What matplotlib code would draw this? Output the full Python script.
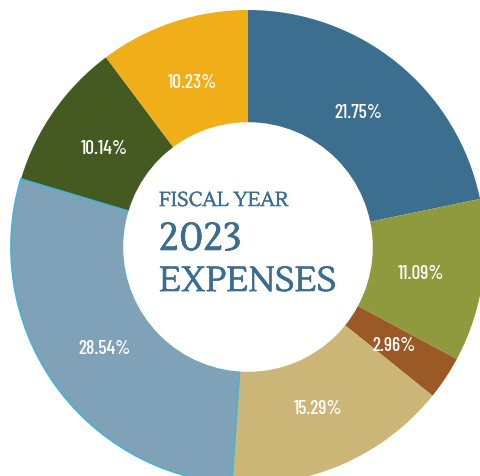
import matplotlib
matplotlib.use("Agg")
import matplotlib.pyplot as plt
from matplotlib.patches import Circle
import matplotlib.patheffects as pe
import numpy as np

values = [21.75, 11.09, 2.96, 15.29, 28.54, 10.14, 10.23]
labels = ["21.75%", "11.09%", "2.96%", "15.29%", "28.54%", "10.14%", "10.23%"]
colors = ["#3c6e8f", "#8f9a3f", "#9b5a25", "#cbb677", "#80a2b8", "#455a20", "#f0ae19"]
title_lines = ["FISCAL YEAR", "2023", "EXPENSES"]

W, H = 480, 477
fig = plt.figure(figsize=(W / 100, H / 100), dpi=100)
ax = fig.add_axes([0, 0, 1, 1])

cx, cy = 248, H - 248
R = 237
ring = 113

wedges, _ = ax.pie(values, colors=colors, startangle=90, counterclock=False,
                   radius=R, center=(cx, cy),
                   wedgeprops=dict(width=ring, linewidth=0, antialiased=True))
wedges[4].set_edgecolor("#4ab3cf")
wedges[4].set_linewidth(1.3)
wedges[4].set_zorder(3)
ax.add_patch(Circle((cx, cy), R - ring + 0.8, facecolor="white", edgecolor="none", zorder=4))

ax.set_xlim(0, W)
ax.set_ylim(0, H)
ax.set_aspect("equal")
ax.axis("off")

rl = 175
lab_font = ["Barlow Condensed", "DejaVu Sans"]
for w, lab in zip(wedges, labels):
    t = np.deg2rad((w.theta1 + w.theta2) / 2)
    ax.text(cx + rl * np.cos(t), cy + rl * np.sin(t) - 1, lab, color="white",
            ha="center", va="center", fontsize=14, fontweight="medium",
            family=lab_font, zorder=5)

tc = "#3b6d8e"
tf = ["Lustria", "DejaVu Serif"]
fx = [pe.withStroke(linewidth=0.45, foreground=tc)]
ax.text(159, H - 207, title_lines[0], color=tc, fontsize=14.5, ha="left", va="baseline",
        family=tf, zorder=5, path_effects=[pe.withStroke(linewidth=0.3, foreground=tc)])
ax.text(159, H - 251, title_lines[1], color=tc, fontsize=28, ha="left", va="baseline",
        family=tf, zorder=5, path_effects=fx)
ax.text(159, H - 292, title_lines[2], color=tc, fontsize=25, ha="left", va="baseline",
        family=tf, zorder=5, path_effects=fx)

fig.savefig("out.png", dpi=100)
